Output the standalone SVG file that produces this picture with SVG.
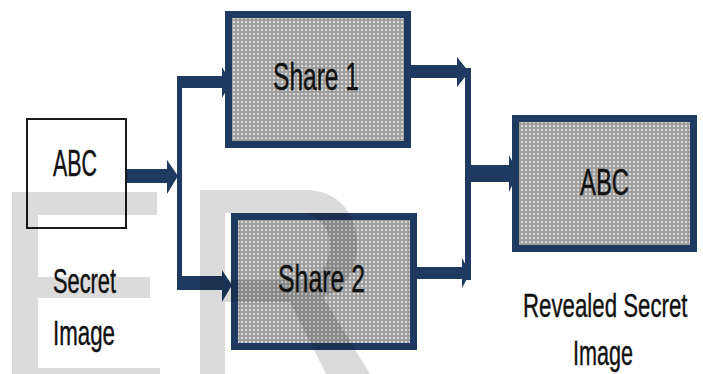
<svg xmlns="http://www.w3.org/2000/svg" width="703" height="374" viewBox="0 0 703 374">
<defs>
<pattern id="dots" width="4" height="4" patternUnits="userSpaceOnUse">
<rect width="4" height="4" fill="#9c9c9c"/>
<circle cx="2" cy="2" r="1.2" fill="#dadada"/>
</pattern>
<style>
.share{fill:url(#dots);stroke:#1f3a60;stroke-width:7}
.plain{fill:#ffffff;stroke:#1a1a1a;stroke-width:2}
.conn{fill:#1f3a60}
.t{font-family:"Liberation Sans Narrow","Liberation Sans",Arial,sans-serif;fill:#111111;stroke:#111111;stroke-width:0.4;text-anchor:start}
.wm{fill:#000000;fill-opacity:0.14}
</style>
</defs>
<rect width="703" height="374" fill="#ffffff"/>
<g id="secret">
<rect class="plain" x="27" y="119" width="99" height="109"/>
<text class="t" x="53" y="176" font-size="36" textLength="44" lengthAdjust="spacingAndGlyphs">ABC</text>
<text class="t" x="53" y="293" font-size="35" textLength="63" lengthAdjust="spacingAndGlyphs">Secret</text>
<text class="t" x="53" y="345" font-size="35" textLength="62" lengthAdjust="spacingAndGlyphs">Image</text>
</g>
<g id="share1">
<rect class="share" x="228.5" y="14.5" width="179" height="130"/>
<text class="t" x="273" y="90" font-size="38" textLength="86" lengthAdjust="spacingAndGlyphs">Share 1</text>
</g>
<g id="share2">
<rect class="share" x="234.5" y="216.5" width="179" height="130"/>
<text class="t" x="278" y="292" font-size="38" textLength="87" lengthAdjust="spacingAndGlyphs">Share 2</text>
</g>
<g id="revealed">
<rect class="share" x="515.5" y="118.5" width="178" height="130"/>
<text class="t" x="580" y="195" font-size="37" textLength="49" lengthAdjust="spacingAndGlyphs">ABC</text>
<text class="t" transform="translate(523,317) scale(0.655,1)" x="0" y="0" font-size="34">Revealed Secret</text>
<text class="t" x="573" y="365" font-size="35" textLength="60" lengthAdjust="spacingAndGlyphs">Image</text>
</g>
<g id="connectors">
<rect class="conn" x="127" y="169" width="42" height="14"/>
<polygon class="conn" points="167,160 178,176 167,194"/>
<rect class="conn" x="177" y="76" width="5" height="214"/>
<rect class="conn" x="177" y="76" width="47" height="12"/>
<polygon class="conn" points="222,67 231,82 222,98"/>
<rect class="conn" x="177" y="276" width="47" height="14"/>
<polygon class="conn" points="222,270 232,285 222,302"/>
<rect class="conn" x="410" y="65" width="49" height="13"/>
<polygon class="conn" points="457,57 469,72 457,87"/>
<rect class="conn" x="416" y="267" width="48" height="12"/>
<polygon class="conn" points="462,258 470,273 462,288"/>
<rect class="conn" x="465" y="68" width="6" height="212"/>
<rect class="conn" x="470" y="165" width="41" height="17"/>
<polygon class="conn" points="509,155 518,173 509,192"/>
</g>
<g id="watermark">
<polygon class="wm" points="12,192 157,192 157,215 38,215 38,277 150,277 150,298 38,298 38,368 160,368 160,374 12,374"/>
<path class="wm" fill-rule="evenodd" d="M200,190 L305,190 C340,190 357,215 357,245 C357,272 343,290 323,297 L370,374 L326,374 L290,302 L225,302 L225,374 L200,374 Z M225,213 L298,213 C318,213 330,228 330,246 C330,265 318,280 298,280 L225,280 Z"/>
</g>
</svg>
